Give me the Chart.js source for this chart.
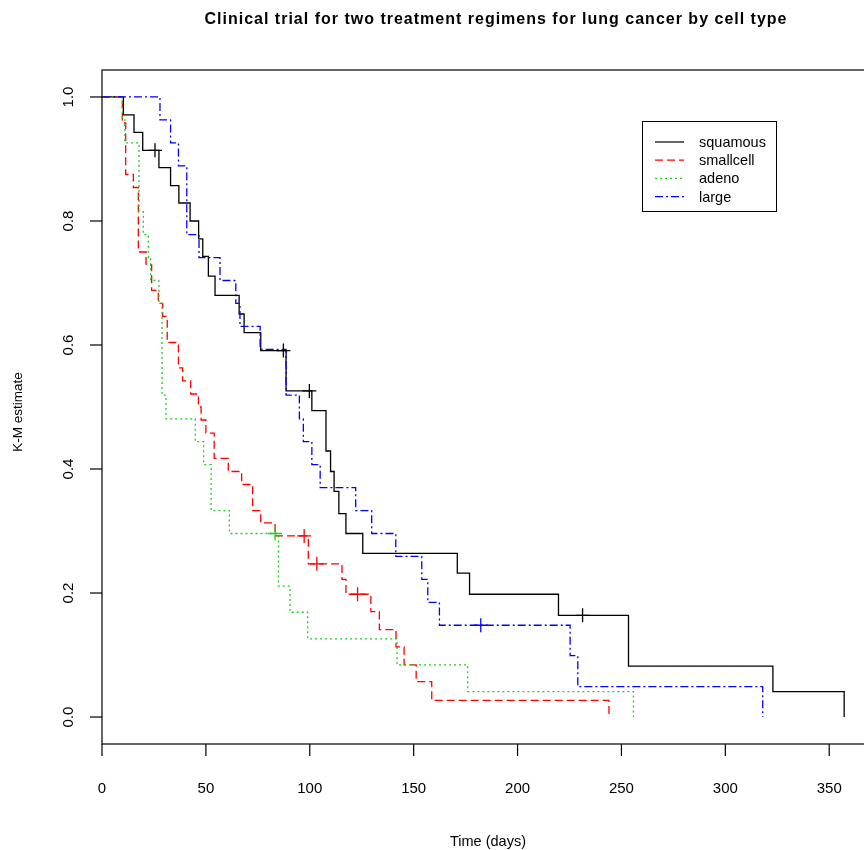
<!DOCTYPE html>
<html><head><meta charset="utf-8">
<script src="https://cdn.jsdelivr.net/npm/chart.js@4.4.0/dist/chart.umd.min.js"></script>
<style>html,body{margin:0;padding:0;background:#fff;overflow:hidden;width:864px;height:850px}canvas{display:block}</style>
</head><body><canvas id="c" width="890" height="850"></canvas>
<script>
// ---- data ----
const seriesNames = ['squamous', 'smallcell', 'adeno', 'large'];

const squamousTime = [0, 10.3, 15.4, 19.6, 27.4, 33, 37, 42.4, 46.5, 48.5, 51.2, 54.4, 66, 68.4, 76.4, 88.6, 101, 107.8, 110, 111.7, 114, 117.4, 125.5, 171, 176.9, 219.7, 253.4, 322.9, 357.2];
const squamousSurv = [1, 0.971, 0.943, 0.914, 0.886, 0.857, 0.829, 0.800, 0.771, 0.743, 0.711, 0.680, 0.650, 0.620, 0.591, 0.526, 0.494, 0.429, 0.396, 0.364, 0.328, 0.296, 0.264, 0.232, 0.198, 0.164, 0.082, 0.041, 0];
const squamousCensorTime = [25.5, 87.3, 99.8, 231.3];
const squamousCensorSurv = [0.914, 0.591, 0.526, 0.164];

const smallcellTime = [0, 9.8, 11.4, 15.1, 17.5, 21.2, 23.9, 27.1, 29.2, 31.4, 36.8, 38.8, 42.7, 46.4, 47.7, 50, 54, 60.8, 67.2, 72.5, 76.4, 83.3, 99.3, 115.5, 117.4, 129.4, 133.5, 141.5, 145.4, 151.2, 158.7, 244];
const smallcellSurv = [1, 0.958, 0.875, 0.854, 0.750, 0.729, 0.688, 0.667, 0.646, 0.604, 0.563, 0.542, 0.521, 0.500, 0.479, 0.458, 0.417, 0.396, 0.375, 0.333, 0.313, 0.292, 0.247, 0.222, 0.198, 0.170, 0.141, 0.113, 0.084, 0.057, 0.027, 0];
const smallcellCensorTime = [97.3, 103.4, 123];
const smallcellCensorSurv = [0.292, 0.247, 0.198];

const adenoTime = [0, 9.8, 11, 17.8, 19.9, 22.3, 23.4, 27.4, 28.9, 30.8, 44.9, 48.9, 52.5, 61.3, 84.9, 90.5, 99, 142, 176, 255.8];
const adenoSurv = [1, 0.963, 0.926, 0.815, 0.778, 0.741, 0.704, 0.667, 0.519, 0.481, 0.444, 0.407, 0.333, 0.296, 0.211, 0.169, 0.126, 0.084, 0.041, 0];
const adenoCensorTime = [83.3];
const adenoCensorSurv = [0.296];

const largeTime = [0, 27.9, 33, 36.8, 40.8, 46.7, 56.8, 64.4, 66.4, 76.1, 88.6, 95, 96.9, 101, 105, 122.1, 129.8, 141.4, 153.9, 156.8, 162.4, 225.3, 229, 318];
const largeSurv = [1, 0.963, 0.926, 0.889, 0.778, 0.741, 0.704, 0.667, 0.630, 0.593, 0.519, 0.481, 0.444, 0.407, 0.370, 0.333, 0.296, 0.259, 0.222, 0.185, 0.148, 0.099, 0.049, 0];
const largeCensorTime = [182.3];
const largeCensorSurv = [0.148];

const xTickValues = [0, 50, 100, 150, 200, 250, 300, 350];
const yTickValues = [0, 0.2, 0.4, 0.6, 0.8, 1.0];

const titleText = 'Clinical trial for two treatment regimens for lung cancer by cell type';
const xTitle = 'Time (days)';
const yTitle = 'K-M estimate';

// ---- styles ----
const colors = ['#000000', '#ff0000', '#22cc22', '#0000ff'];
const dashes = [[], [8, 4], [2, 3], [8, 3, 2, 3]];
const FONT = '"Liberation Sans", Arial, sans-serif';

function pts(t, s) { return t.map((v, i) => ({ x: v, y: s[i] })); }

const curves = [
  pts(squamousTime, squamousSurv), pts(smallcellTime, smallcellSurv),
  pts(adenoTime, adenoSurv), pts(largeTime, largeSurv)
];
const censors = [
  pts(squamousCensorTime, squamousCensorSurv), pts(smallcellCensorTime, smallcellCensorSurv),
  pts(adenoCensorTime, adenoCensorSurv), pts(largeCensorTime, largeCensorSurv)
];

const datasets = [];
seriesNames.forEach((n, i) => {
  datasets.push({
    label: n, data: curves[i], stepped: 'before', borderColor: colors[i],
    borderWidth: 1.3, borderDash: dashes[i], pointRadius: 0, fill: false,
    order: 10 - i
  });
});
seriesNames.forEach((n, i) => {
  datasets.push({
    label: n + ' censored', data: censors[i], showLine: false, pointStyle: 'cross',
    pointRadius: 7, borderColor: colors[i], pointBorderWidth: 1.3, order: 1
  });
});

const decor = {
  id: 'decor',
  afterDraw(chart) {
    const ctx = chart.ctx, a = chart.chartArea;
    const xs = chart.scales.x, ys = chart.scales.y;
    ctx.save();
    ctx.strokeStyle = '#000'; ctx.lineWidth = 1.2; ctx.setLineDash([]);
    ctx.strokeRect(a.left, a.top, a.right - a.left, a.bottom - a.top);
    ctx.fillStyle = '#000';
    // x ticks
    ctx.font = '15px ' + FONT; ctx.textAlign = 'center'; ctx.textBaseline = 'middle';
    xTickValues.forEach(v => {
      const px = xs.getPixelForValue(v);
      ctx.beginPath(); ctx.moveTo(px, a.bottom); ctx.lineTo(px, a.bottom + 12); ctx.stroke();
      ctx.fillText(String(v), px, 789);
    });
    // y ticks
    yTickValues.forEach(v => {
      const py = ys.getPixelForValue(v);
      ctx.beginPath(); ctx.moveTo(a.left, py); ctx.lineTo(a.left - 12, py); ctx.stroke();
      ctx.save(); ctx.translate(69, py); ctx.rotate(-Math.PI / 2);
      ctx.fillText(v.toFixed(1), 0, 0); ctx.restore();
    });
    // axis titles
    ctx.font = '14.5px ' + FONT;
    ctx.fillText(xTitle, 488, 842);
    ctx.font = '13.5px ' + FONT;
    ctx.save(); ctx.translate(18, 412); ctx.rotate(-Math.PI / 2); ctx.fillText(yTitle, 0, 0); ctx.restore();
    // main title
    ctx.font = 'bold 16px ' + FONT;
    ctx.letterSpacing = '1px';
    ctx.fillText(titleText, 496, 20);
    ctx.letterSpacing = '0px';
    // legend
    const lx = 642, ly = 121, lw = 134, lh = 90;
    ctx.lineWidth = 1;
    ctx.strokeRect(lx + 0.5, ly + 0.5, lw, lh);
    ctx.font = '14.5px ' + FONT; ctx.textAlign = 'left';
    seriesNames.forEach((n, i) => {
      const yy = ly + 21 + i * 18.2;
      ctx.strokeStyle = colors[i]; ctx.setLineDash(dashes[i]); ctx.lineWidth = 1.2;
      ctx.beginPath(); ctx.moveTo(lx + 13, yy); ctx.lineTo(lx + 42, yy); ctx.stroke();
      ctx.fillText(n, lx + 57, yy + 1);
    });
    ctx.restore();
  }
};

new Chart(document.getElementById('c'), {
  type: 'line',
  data: { datasets },
  options: {
    responsive: false, animation: false, devicePixelRatio: 1,
    layout: { padding: { top: 70, right: 13, left: 0, bottom: 0 } },
    plugins: { legend: { display: false }, title: { display: false }, tooltip: { enabled: false } },
    scales: {
      x: {
        type: 'linear', min: 0, max: 373,
        grid: { display: false }, border: { display: false },
        ticks: { display: false },
        afterFit: s => { s.height = 106; }
      },
      y: {
        type: 'linear', min: -0.0435, max: 1.0435,
        grid: { display: false }, border: { display: false },
        ticks: { display: false },
        afterFit: s => { s.width = 102; }
      }
    }
  },
  plugins: [decor]
});
</script>
</body></html>
